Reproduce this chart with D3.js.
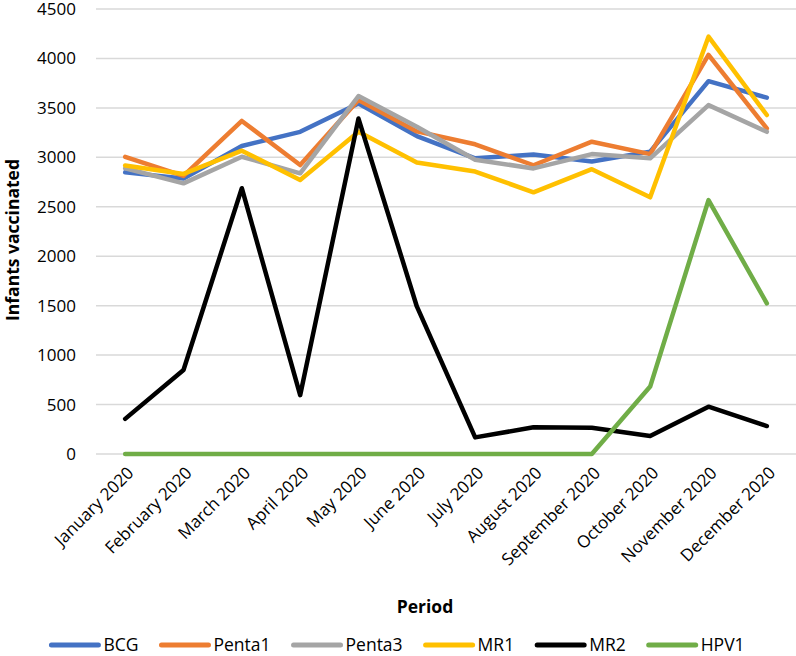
<!DOCTYPE html>
<html><head><meta charset="utf-8">
<script src="https://d3js.org/d3.v7.min.js"></script>
<style>body{margin:0;background:#fff;} svg{display:block;}</style>
</head><body>
<svg id="chart" width="796" height="656"></svg>
<script>
const months = ["January 2020","February 2020","March 2020","April 2020","May 2020","June 2020","July 2020","August 2020","September 2020","October 2020","November 2020","December 2020"];
const seriesNames = ["BCG","Penta1","Penta3","MR1","MR2","HPV1"];
const seriesColors = ["#4472C4","#ED7D31","#A5A5A5","#FFC000","#000000","#70AD47"];
const BCG    = [2848,2785,3115,3258,3545,3215,2990,3028,2958,3058,3770,3603];
const Penta1 = [3005,2812,3368,2922,3580,3262,3132,2920,3158,3032,4036,3292];
const Penta3 = [2890,2737,3006,2838,3620,3310,2975,2888,3033,2990,3528,3258];
const MR1    = [2918,2832,3067,2770,3258,2948,2856,2646,2880,2596,4220,3428];
const MR2    = [355,850,2688,595,3392,1492,168,270,266,182,478,283];
const HPV1   = [0,0,0,0,0,0,0,0,0,682,2568,1524];
const yTicks = [0,500,1000,1500,2000,2500,3000,3500,4000,4500];
const seriesValues = [BCG,Penta1,Penta3,MR1,MR2,HPV1];

const font = "'Open Sans', 'Liberation Sans', sans-serif";
const svg = d3.select("#chart");
const L = 96, R = 796, T = 9, B = 454;

const x = d3.scalePoint().domain(months).range([L, R]).padding(0.5);
const y = d3.scaleLinear().domain([0, 4500]).range([B, T]);

// gridlines
svg.append("g").selectAll("line").data(yTicks).join("line")
  .attr("x1", L).attr("x2", R)
  .attr("y1", d => y(d)).attr("y2", d => y(d))
  .attr("stroke", "#d9d9d9").attr("stroke-width", 1.5);

// y axis labels
const yAxis = d3.axisLeft(y).tickValues(yTicks).tickFormat(d3.format("d")).tickSize(0).tickPadding(0);
const yg = svg.append("g").attr("transform", `translate(76,0)`).call(yAxis);
yg.select(".domain").remove();
yg.selectAll("text").attr("font-family", font).attr("font-size", 17).attr("fill", "#000");

// x axis labels
const xAxis = d3.axisBottom(x).tickSize(0).tickPadding(0);
const xg = svg.append("g").attr("transform", `translate(0,${B})`).call(xAxis);
xg.select(".domain").remove();
xg.selectAll("text")
  .attr("font-family", font).attr("font-size", 17).attr("fill", "#000")
  .attr("text-anchor", "end")
  .attr("dy", null)
  .attr("transform", "translate(9,20) rotate(-45)");

// lines
const line = d3.line().x((d, i) => x(months[i])).y(d => y(d));
svg.append("g").selectAll("path").data(seriesValues).join("path")
  .attr("d", d => line(d))
  .attr("fill", "none")
  .attr("stroke", (d, i) => seriesColors[i])
  .attr("stroke-width", 4.5)
  .attr("stroke-linejoin", "round")
  .attr("stroke-linecap", "round");

// axis titles
svg.append("text").attr("x", 425).attr("y", 613)
  .attr("text-anchor", "middle").attr("font-family", font)
  .attr("font-weight", "bold").attr("font-size", 17.5).text("Period");
svg.append("text")
  .attr("transform", "translate(19,240) rotate(-90)")
  .attr("text-anchor", "middle").attr("font-family", font)
  .attr("font-weight", "bold").attr("font-size", 17.5).text("Infants vaccinated");

// legend
const lg = svg.append("g");
const items = lg.selectAll("g").data(seriesNames).join("g");
items.append("line").attr("x1", 0).attr("x2", 47).attr("y1", 0).attr("y2", 0)
  .attr("stroke", (d, i) => seriesColors[i]).attr("stroke-width", 5).attr("stroke-linecap", "round");
items.append("text").attr("x", 52).attr("y", 0).attr("dy", "0.35em")
  .attr("font-family", font).attr("font-size", 17.5).text(d => d);
let cx = 0; const pos = [];
items.each(function() {
  pos.push(cx);
  cx += this.getBBox().width + 23;
});
const total = cx - 23;
const start = 398 - total / 2;
items.attr("transform", (d, i) => `translate(${start + pos[i]},645)`);
</script>
</body></html>
